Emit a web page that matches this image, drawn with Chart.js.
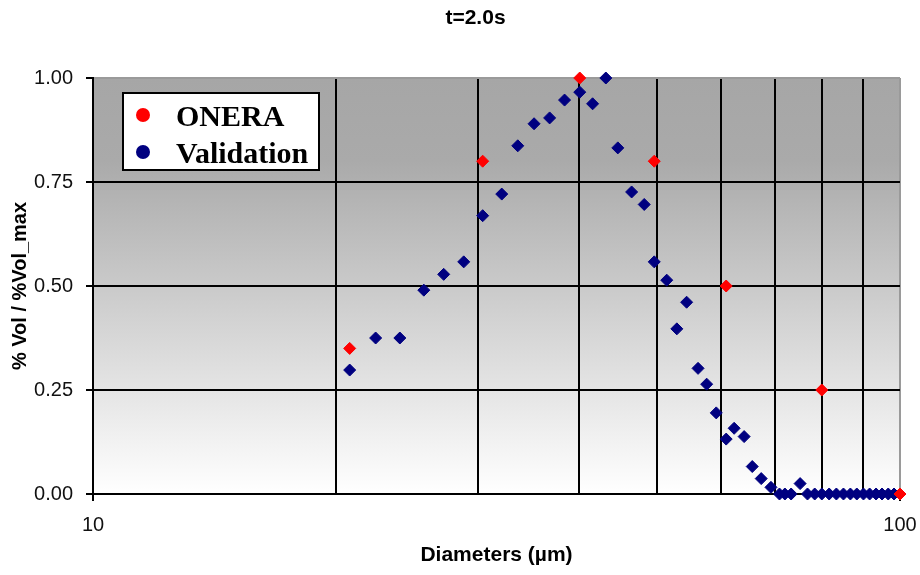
<!DOCTYPE html>
<html>
<head>
<meta charset="utf-8">
<script src="https://cdn.jsdelivr.net/npm/chart.js@4.4.1/dist/chart.umd.min.js"></script>
<style>
  html, body { margin: 0; padding: 0; background: #ffffff; }
  #wrap { width: 920px; height: 575px; }
</style>
</head>
<body>
<div id="wrap"><canvas id="chart" width="920" height="575"></canvas></div>
<script>
// Labels
const chartTitle = 't=2.0s';
const xAxisTitle = 'Diameters (µm)';
const yAxisTitle = '% Vol / %Vol_max';
const seriesNames = ['ONERA', 'Validation'];

// ONERA measurements (diameter in µm, normalised volume fraction)
const oneraDiameters = [20.8, 30.4, 40.1, 49.6, 60.9, 80.0, 100.0];
const oneraValues    = [0.35, 0.80, 1.00, 0.80, 0.50, 0.25, 0.00];

// Validation run (diameter in µm, normalised volume fraction)
const validationDiameters = [
  20.8, 22.4, 24.0, 25.7, 27.2, 28.8, 30.4, 32.1, 33.6, 35.2,
  36.8, 38.4, 40.1, 41.6, 43.2, 44.7, 46.5, 48.2, 49.6, 51.4,
  52.9, 54.4, 56.2, 57.6, 59.2, 60.9, 62.3, 64.1, 65.6, 67.3,
  69.2, 70.9, 72.0, 73.3, 75.2, 76.8, 78.4, 80.0, 81.7, 83.4,
  85.1, 86.8, 88.4, 90.1, 91.7, 93.4, 95.0, 96.7, 98.3, 100.0
];
const validationValues = [
  0.298, 0.375, 0.375, 0.490, 0.528, 0.558, 0.669, 0.721, 0.837, 0.890,
  0.904, 0.947, 0.966, 0.938, 1.000, 0.832, 0.726, 0.696, 0.558, 0.514,
  0.397, 0.461, 0.302, 0.264, 0.195, 0.132, 0.158, 0.138, 0.066, 0.037,
  0.016, 0.000, 0.000, 0.000, 0.025, 0.000, 0.000, 0.000, 0.000, 0.000,
  0.000, 0.000, 0.000, 0.000, 0.000, 0.000, 0.000, 0.000, 0.000, 0.000
];

// Axis settings
const xMin = 10, xMax = 100;
const xGridValues = [10, 20, 30, 40, 50, 60, 70, 80, 90, 100];
const xLabelled = [10, 100];
const yMin = 0, yMax = 1, yStep = 0.25;

const oneraColor = '#ff0000';
const validationColor = '#000080';

const toPoints = (xs, ys) => xs.map((x, i) => ({ x: x, y: ys[i] }));

// Grey-to-white gradient behind the plot
const plotBackground = {
  id: 'plotBackground',
  beforeDraw(chart) {
    const { ctx, chartArea: a } = chart;
    const g = ctx.createLinearGradient(0, a.top, 0, a.bottom);
    g.addColorStop(0, '#a6a6a6');
    g.addColorStop(0.2, '#aaaaaa');
    g.addColorStop(1, '#ffffff');
    ctx.save();
    ctx.fillStyle = g;
    ctx.fillRect(a.left, a.top, a.right - a.left, a.bottom - a.top);
    ctx.restore();
  }
};

// Chart heading
const heading = {
  id: 'heading',
  afterDraw(chart) {
    const { ctx, chartArea: a } = chart;
    ctx.save();
    ctx.font = 'bold 21px "Liberation Sans", Arial, sans-serif';
    ctx.fillStyle = '#000000';
    ctx.textAlign = 'center';
    ctx.textBaseline = 'middle';
    ctx.fillText(chartTitle, (a.left + a.right) / 2 - 21, 18);
    ctx.restore();
  }
};

// Boxed legend inside the plot, top-left
const boxLegend = {
  id: 'boxLegend',
  afterDraw(chart) {
    const { ctx, chartArea: a } = chart;
    const x = a.left + 30, y = a.top + 15, w = 196, h = 77;
    ctx.save();
    ctx.fillStyle = '#ffffff';
    ctx.fillRect(x, y, w, h);
    ctx.strokeStyle = '#000000';
    ctx.lineWidth = 2;
    ctx.strokeRect(x, y, w, h);
    ctx.font = 'bold 30px "Liberation Serif", "Times New Roman", serif';
    ctx.textAlign = 'left';
    ctx.textBaseline = 'alphabetic';
    chart.data.datasets.forEach((ds, i) => {
      const cy = y + 22 + i * 37;
      ctx.fillStyle = ds.backgroundColor;
      ctx.beginPath();
      ctx.arc(x + 20, cy, 7, 0, Math.PI * 2);
      ctx.fill();
      ctx.fillStyle = '#000000';
      ctx.fillText(ds.label, x + 53, cy + 11);
    });
    ctx.restore();
  }
};

const tickFont = { family: '"Liberation Sans", Arial, sans-serif', size: 20 };
const titleFont = { family: '"Liberation Sans", Arial, sans-serif', size: 21, weight: 'bold' };

new Chart(document.getElementById('chart'), {
  type: 'scatter',
  data: {
    datasets: [
      {
        label: seriesNames[0],
        data: toPoints(oneraDiameters, oneraValues),
        backgroundColor: oneraColor,
        borderColor: oneraColor,
        borderWidth: 1,
        pointStyle: 'rectRot',
        pointRadius: 6,
        pointHoverRadius: 6,
        clip: false
      },
      {
        label: seriesNames[1],
        data: toPoints(validationDiameters, validationValues),
        backgroundColor: validationColor,
        borderColor: validationColor,
        borderWidth: 1,
        pointStyle: 'rectRot',
        pointRadius: 6,
        pointHoverRadius: 6,
        clip: false
      }
    ]
  },
  options: {
    responsive: false,
    animation: false,
    devicePixelRatio: 1,
    layout: { padding: { top: 78, right: 20, bottom: 0, left: 0 } },
    plugins: {
      legend: { display: false },
      title: { display: false },
      tooltip: { enabled: false }
    },
    scales: {
      x: {
        type: 'logarithmic',
        min: xMin,
        max: xMax,
        afterBuildTicks(scale) { scale.ticks = xGridValues.map(v => ({ value: v })); },
        afterFit(scale) {
          scale.height = 81;
          scale.paddingLeft = 0;
          scale.paddingRight = 0;
        },
        border: { display: true, color: '#000000', width: 2 },
        grid: {
          color: (c) => (c.tick && c.tick.value === xMax) ? '#9a9a9a' : '#000000',
          lineWidth: 2,
          drawTicks: true,
          tickLength: 7,
          tickWidth: 2,
          tickColor: (c) => (c.tick && xLabelled.includes(c.tick.value)) ? '#000000' : 'rgba(0,0,0,0)'
        },
        ticks: {
          autoSkip: false,
          maxRotation: 0,
          padding: 12,
          color: '#111111',
          font: tickFont,
          callback: (v) => xLabelled.includes(v) ? String(v) : ''
        },
        title: {
          display: true,
          text: xAxisTitle,
          color: '#000000',
          font: titleFont,
          padding: { top: 0, bottom: 7 }
        }
      },
      y: {
        type: 'linear',
        min: yMin,
        max: yMax,
        afterFit(scale) { scale.width = 93; },
        border: { display: true, color: '#000000', width: 2 },
        grid: {
          color: (c) => (c.tick && c.tick.value === yMax) ? '#9a9a9a' : '#000000',
          lineWidth: 2,
          drawTicks: true,
          tickLength: 7,
          tickWidth: 2,
          tickColor: '#000000'
        },
        ticks: {
          stepSize: yStep,
          padding: 13,
          color: '#111111',
          font: tickFont,
          callback: (v) => Number(v).toFixed(2)
        },
        title: {
          display: true,
          text: yAxisTitle,
          color: '#000000',
          font: { family: '"Liberation Sans", Arial, sans-serif', size: 20, weight: 'bold' },
          padding: { top: 8, bottom: 0 }
        }
      }
    }
  },
  plugins: [plotBackground, heading, boxLegend]
});
</script>
</body>
</html>
